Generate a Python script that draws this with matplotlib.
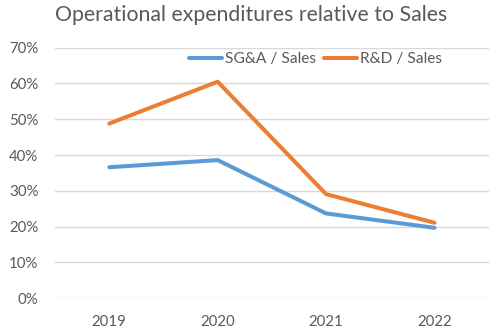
import matplotlib.pyplot as plt
from matplotlib.ticker import PercentFormatter

# 売上高に対する営業費用の比率
years = ['2019', '2020', '2021', '2022']
sga_ratio = [0.366, 0.386, 0.237, 0.197]
rd_ratio = [0.488, 0.605, 0.291, 0.211]
yticks = [0, 0.1, 0.2, 0.3, 0.4, 0.5, 0.6, 0.7]

plt.rcParams['font.family'] = ['Lato', 'DejaVu Sans']

fig = plt.figure(figsize=(4.97, 3.34), dpi=100)
ax = fig.add_axes([0.1107, 0.1069, 0.8726, 0.7503])

x = range(len(years))
ax.plot(x, sga_ratio, color='#5B9BD5', lw=2.9, label='SG&A / Sales', solid_capstyle='round')
ax.plot(x, rd_ratio, color='#ED7D31', lw=2.9, label='R&D / Sales', solid_capstyle='round')

ax.set_xlim(-0.5, len(years) - 0.5)
ax.set_ylim(0, 0.7)
ax.set_xticks(list(x))
ax.set_xticklabels(years)
ax.set_yticks(yticks)
ax.yaxis.set_major_formatter(PercentFormatter(1.0, decimals=0))

for s in ax.spines.values():
    s.set_visible(False)
ax.grid(axis='y', color='#D9D9D9', lw=1)
ax.set_axisbelow(True)
ax.tick_params(length=0, colors='#595959', labelsize=10.8)
ax.tick_params(axis='x', pad=12)
ax.tick_params(axis='y', pad=12)

fig.text(0.505, 0.955, 'Operational expenditures relative to Sales',
         ha='center', va='center', fontsize=15.3, color='#595959')

ax.legend(loc='center', bbox_to_anchor=(0.635, 0.823), bbox_transform=fig.transFigure,
          ncol=2, frameon=False, fontsize=11.2, labelcolor='#595959',
          handlelength=2.1, handletextpad=0.2, columnspacing=0.5)

plt.savefig('out.png', dpi=100)
